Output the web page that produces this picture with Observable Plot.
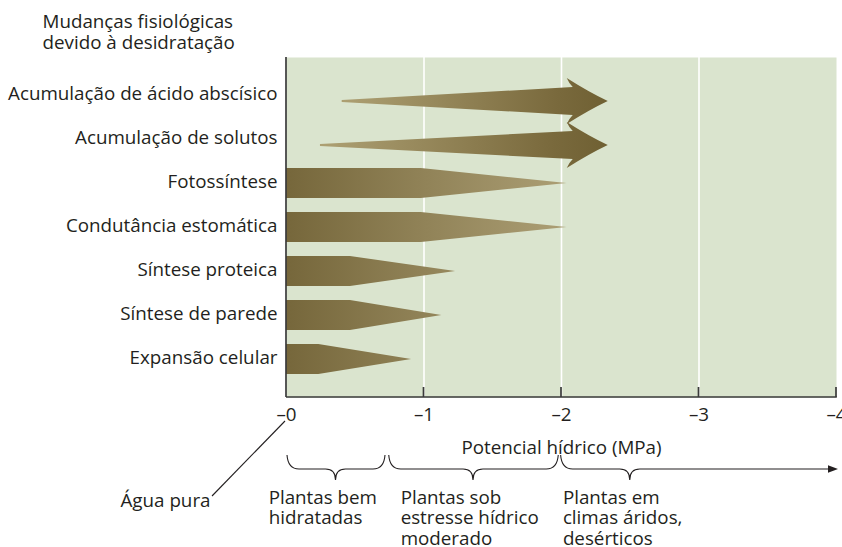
<!DOCTYPE html>
<html>
<head>
<meta charset="utf-8">
<script src="https://cdn.jsdelivr.net/npm/d3@7"></script>
<script src="https://cdn.jsdelivr.net/npm/@observablehq/plot@0.6"></script>
<style>
  body { margin: 0; background: white; }
</style>
</head>
<body>
<div id="chart"></div>
<script>
// ---- data ----
const categories = [
  "Acumulação de ácido abscísico",
  "Acumulação de solutos",
  "Fotossíntese",
  "Condutância estomática",
  "Síntese proteica",
  "Síntese de parede",
  "Expansão celular"
];
const kinds     = ["arrow", "arrow", "taper", "taper", "taper", "taper", "taper"];
const starts    = [-0.405, -0.247, 0, 0, 0, 0, 0];
const shoulders = [null, null, -0.98, -0.98, -0.465, -0.465, -0.235];
const ends      = [-2.34, -2.34, -2.04, -2.04, -1.23, -1.13, -0.91];

const xTicks = [0, -1, -2, -3, -4];
const gridLines = [-1, -2, -3];

const zoneStart = [0, -0.74, -1.99];
const zoneEnd   = [-0.72, -1.98, -4];
const zoneTip   = [-0.36, -1.36, -2.5];
const zoneArrow = [false, false, true];
const zoneLabels = ["Plantas bem\nhidratadas", "Plantas sob\nestresse hídrico\nmoderado", "Plantas em\nclimas áridos,\ndesérticos"];
const zoneLabelX = [0.13, -0.83, -2.01];

const titleText = "Mudanças fisiológicas\ndevido à desidratação";
const xLabel = "Potencial hídrico (MPa)";
const pureWater = "Água pura";

const ink = "#231f20";
const axisInk = "#3a3a3a";

// ---- custom render marks ----
function shapesMark(index, scales) {
  const {x, y} = scales;
  const g = d3.create("svg:g");
  const defs = g.append("defs");
  const barGrad = defs.append("linearGradient")
    .attr("id", "barGrad").attr("gradientUnits", "userSpaceOnUse")
    .attr("x1", x(0)).attr("x2", x(-2.05)).attr("y1", 0).attr("y2", 0);
  barGrad.append("stop").attr("offset", 0).attr("stop-color", "#76673b");
  barGrad.append("stop").attr("offset", 1).attr("stop-color", "#ac9f75");
  const arrGrad = defs.append("linearGradient")
    .attr("id", "arrGrad").attr("x1", 0).attr("x2", 1).attr("y1", 0).attr("y2", 0);
  arrGrad.append("stop").attr("offset", 0).attr("stop-color", "#ada073");
  arrGrad.append("stop").attr("offset", 0.8).attr("stop-color", "#7a6a3d");
  arrGrad.append("stop").attr("offset", 1).attr("stop-color", "#6f6033");

  const arrowShift = 8, barShift = 2;
  categories.forEach((c, i) => {
    let d;
    if (kinds[i] === "arrow") {
      const cy = y(c) + arrowShift;
      const x0 = x(starts[i]), xt = x(ends[i]);
      const xb = xt - 41, xj = xt - 35;
      d = `M${x0},${cy - 1} L${xj},${cy - 14} Q${xb + 2},${cy - 18} ${xb},${cy - 23} ` +
          `Q${xb + 22},${cy - 9} ${xt},${cy} Q${xb + 22},${cy + 9} ${xb},${cy + 23} ` +
          `Q${xb + 2},${cy + 18} ${xj},${cy + 14} L${x0},${cy + 1} Z`;
      g.append("path").attr("d", d).attr("fill", "url(#arrGrad)");
    } else {
      const cy = y(c) + barShift;
      const x0 = x(starts[i]), xs = x(shoulders[i]), xt = x(ends[i]);
      d = `M${x0},${cy - 15} L${xs},${cy - 15} L${xt},${cy} L${xs},${cy + 15} L${x0},${cy + 15} Z`;
      g.append("path").attr("d", d).attr("fill", "url(#barGrad)");
    }
  });
  return g.node();
}

function axesMark(index, scales, values, dims) {
  const {x} = scales;
  const {marginTop, marginBottom, height} = dims;
  const yb = height - marginBottom;
  const g = d3.create("svg:g").attr("stroke", axisInk).attr("stroke-width", 1.7).attr("fill", "none");
  g.append("line").attr("x1", x(0)).attr("x2", x(0)).attr("y1", marginTop).attr("y2", yb);
  g.append("line").attr("x1", x(0)).attr("x2", x(xTicks[xTicks.length - 1]) + 0.8).attr("y1", yb).attr("y2", yb);
  xTicks.slice(1).forEach(t => {
    g.append("line").attr("x1", x(t)).attr("x2", x(t)).attr("y1", yb - 10).attr("y2", yb);
  });
  return g.node();
}

function annotationsMark(index, scales, values, dims) {
  const {x} = scales;
  const {marginBottom, height} = dims;
  const yb = height - marginBottom;
  const g = d3.create("svg:g").attr("stroke", ink).attr("stroke-width", 1.1).attr("fill", "none");
  const y0 = yb + 58, ym = yb + 72, yt = yb + 83;
  zoneStart.forEach((s, i) => {
    const xa = x(s) + 1, xb = x(zoneEnd[i]), xm = x(zoneTip[i]);
    let d = `M${xa},${y0} Q${xa + 1},${ym} ${xa + 12},${ym} L${xm - 10},${ym} Q${xm},${ym} ${xm},${yt} ` +
            `Q${xm},${ym} ${xm + 10},${ym} `;
    if (zoneArrow[i]) {
      d += `L${xb - 6},${ym}`;
      g.append("path").attr("d", d);
      g.append("path").attr("d", `M${xb + 2},${ym} L${xb - 8},${ym - 3.8} L${xb - 8},${ym + 3.8} Z`)
        .attr("fill", ink).attr("stroke", "none");
    } else {
      d += `L${xb - 12},${ym} Q${xb - 1},${ym} ${xb},${y0}`;
      g.append("path").attr("d", d);
    }
  });
  // leader line for "Água pura"
  g.append("line")
    .attr("x1", x(0) - 1).attr("y1", yb + 24)
    .attr("x2", x(0) - 74).attr("y2", yb + 99);
  return g.node();
}

// ---- plot ----
const chart = Plot.plot({
  width: 842,
  height: 547,
  marginLeft: 286,
  marginRight: 6,
  marginTop: 57,
  marginBottom: 150,
  style: {fontFamily: "'Open Sans', sans-serif", fontSize: "18.8px", color: ink, background: "white"},
  x: {domain: [0, -4], ticks: xTicks, tickFormat: d => "\u2013" + Math.abs(d), tickSize: 0, tickPadding: 10, label: null},
  y: {type: "point", domain: categories, padding: 0, insetTop: 35, insetBottom: 39, axis: null},
  marks: [
    Plot.frame({fill: "#dae4ce", stroke: "none"}),
    Plot.ruleX(gridLines, {stroke: "white", strokeWidth: 1.6}),
    shapesMark,
    axesMark,
    annotationsMark,
    Plot.text(categories, {y: d => d, frameAnchor: "left", textAnchor: "end", dx: -9, fill: ink}),
    Plot.text([titleText], {frameAnchor: "top-left", textAnchor: "start", lineAnchor: "top", lineHeight: 1.1, dx: -244, dy: -44, fill: ink}),
    Plot.text([xLabel], {frameAnchor: "bottom", lineAnchor: "middle", dy: 50, fill: ink}),
    Plot.text(zoneLabels, {x: (d, i) => zoneLabelX[i], frameAnchor: "bottom", textAnchor: "start", lineAnchor: "top", lineHeight: 1.09, dy: 91.5, fill: ink}),
    Plot.text([pureWater], {frameAnchor: "bottom-left", textAnchor: "end", lineAnchor: "middle", dx: -76, dy: 103, fill: ink})
  ]
});
document.getElementById("chart").appendChild(chart);
</script>
</body>
</html>
